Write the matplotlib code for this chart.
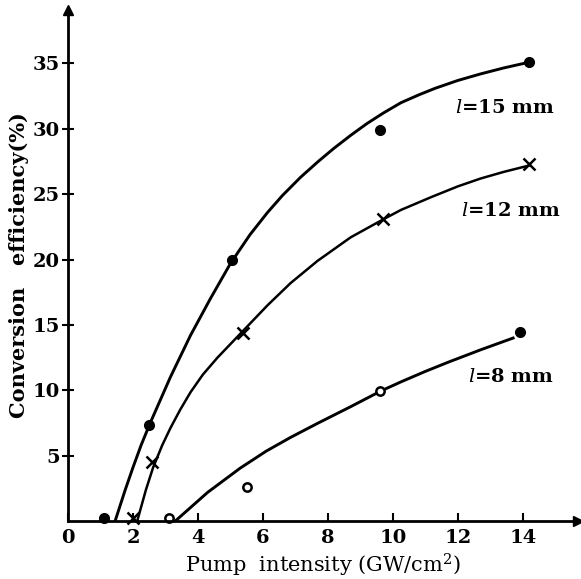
import matplotlib
matplotlib.use("Agg")
import matplotlib.pyplot as plt

# measured points (pump intensity GW/cm2, conversion efficiency %)
x15 = [1.1, 2.5, 5.05, 9.6, 14.2]
y15 = [0.2, 7.35, 20.0, 29.9, 35.1]
x12 = [2.0, 2.6, 5.4, 9.7, 14.2]
y12 = [0.2, 4.5, 14.4, 23.1, 27.3]
x8_open = [3.1, 5.5, 9.6]
y8_open = [0.2, 2.6, 9.95]
x8_full = [13.9]
y8_full = [14.5]

# hand-drawn fit curves
c15_x = [1.45, 1.75, 2.0, 2.25, 2.53, 3.15, 3.77, 4.38, 5.0, 5.6, 6.14,
         6.6, 7.16, 7.7, 8.18, 8.7, 9.2, 9.7, 10.25, 10.8, 11.3, 12.0,
         12.7, 13.4, 14.2]
c15_y = [0.0, 2.3, 4.1, 5.8, 7.5, 11.0, 14.2, 17.0, 19.7, 21.9, 23.6,
         24.9, 26.3, 27.5, 28.5, 29.5, 30.4, 31.2, 32.0, 32.6, 33.1, 33.7,
         34.2, 34.65, 35.1]
c12_x = [2.13, 2.4, 2.62, 2.9, 3.15, 3.45, 3.77, 4.15, 4.6, 5.37, 6.14,
         6.85, 7.68, 8.7, 9.72, 10.25, 11.2, 12.0, 12.7, 13.4, 14.2]
c12_y = [0.0, 2.4, 4.1, 5.8, 7.1, 8.5, 9.85, 11.2, 12.5, 14.5, 16.5,
         18.2, 19.9, 21.7, 23.1, 23.8, 24.8, 25.6, 26.2, 26.7, 27.2]
c8_x = [3.3, 4.3, 5.3, 6.1, 6.85, 7.7, 8.7, 9.63, 10.25, 11.0, 11.7,
        12.7, 13.7]
c8_y = [0.0, 2.2, 4.05, 5.35, 6.4, 7.5, 8.75, 9.95, 10.65, 11.45, 12.15,
        13.1, 14.0]

labels = ["=15 mm", "=12 mm", "=8 mm"]
label_pos = [(11.9, 31.2), (12.1, 23.3), (12.3, 10.6)]

xticks = [0, 2, 4, 6, 8, 10, 12, 14]
yticks = [5, 10, 15, 20, 25, 30, 35]

plt.rcParams["mathtext.fontset"] = "dejavuserif"
font = dict(family="DejaVu Serif", weight="bold")

fig = plt.figure(figsize=(5.81, 5.79), dpi=100)
ax = fig.add_axes([0.117, 0.100, 0.878, 0.883])

ax.plot(c15_x, c15_y, color="black", lw=2.1)
ax.plot(c12_x, c12_y, color="black", lw=1.8)
ax.plot(c8_x, c8_y, color="black", lw=2.1)

ax.plot(x15, y15, "o", color="black", ms=7, clip_on=False)
ax.plot(x12, y12, "x", color="black", ms=8, mew=1.8, clip_on=False)
ax.plot(x8_open, y8_open, "o", mfc="white", mec="black", mew=1.8, ms=6,
        clip_on=False)
ax.plot(x8_full, y8_full, "o", color="black", ms=7)

for lab, (lx, ly) in zip(labels, label_pos):
    ax.text(lx, ly, "$l$" + lab, fontsize=14, va="baseline", **font)

ax.set_xlim(0, 15.7)
ax.set_ylim(0, 39.1)
for s in ["top", "right"]:
    ax.spines[s].set_visible(False)
for s in ["left", "bottom"]:
    ax.spines[s].set_linewidth(2.0)

# arrow heads on axes
ax.plot(1, 0, ">k", ms=7, transform=ax.transAxes, clip_on=False)
ax.plot(0, 1, "^k", ms=7, transform=ax.transAxes, clip_on=False)

ax.set_xticks(xticks)
ax.set_yticks(yticks)
ax.set_xticklabels([str(v) for v in xticks], fontsize=14, **font)
ax.set_yticklabels([str(v) for v in yticks], fontsize=14, **font)
ax.tick_params(axis="x", direction="in", length=6, width=1.5, pad=6)
ax.tick_params(axis="y", direction="inout", length=8, width=1.5, pad=2)

ax.set_xlabel("Pump  intensity (GW/cm$^2$)", fontsize=15, labelpad=3,
              family="DejaVu Serif")
ax.set_ylabel("Conversion   efficiency(%)", fontsize=15, labelpad=2, **font)

fig.savefig("out.png", dpi=100)
